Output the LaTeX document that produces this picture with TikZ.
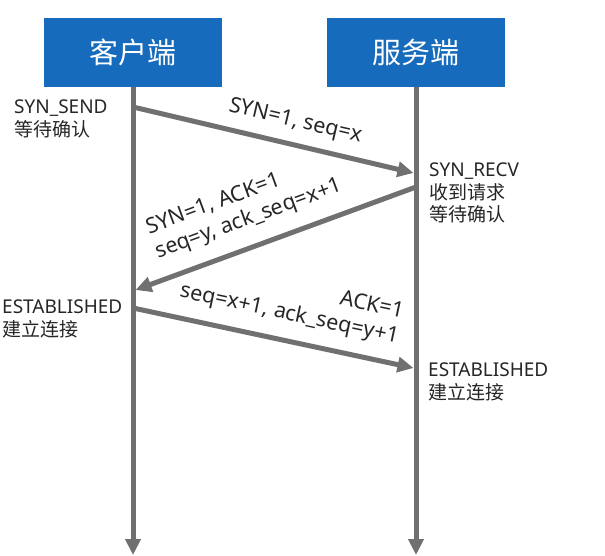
\documentclass[tikz,border=0pt]{standalone}
\usepackage{fontspec}
\setmainfont{Noto Sans}
\newfontfamily\cjk{Noto Sans CJK SC}
\usetikzlibrary{arrows.meta}
\definecolor{hostblue}{RGB}{22,107,188}
\definecolor{wiregray}{RGB}{112,112,112}

\begin{document}
\begin{tikzpicture}[x=1pt,y=-1pt,
  host/.style={fill=hostblue,text=white,minimum width=178pt,minimum height=69pt,font=\cjk\fontsize{29}{34}\selectfont},
  wire/.style={draw=wiregray,line width=5pt,-{Triangle[width=15pt,length=16pt]}},
  state/.style={anchor=north west,align=left,inner sep=0pt,text=black!85,font=\fontsize{19}{22.5}\selectfont},
  lbl/.style={sloped,inner xsep=0pt,text=black!85,font=\fontsize{21.5}{26}\selectfont}]
\useasboundingbox (0,0) rectangle (605,556);
\node [host] (cli) at (133,52.5) {客户端};
\node [host] (srv) at (416,52.5) {服务端};
\coordinate (cb) at (133,555);
\coordinate (sb) at (416,555);
\draw [wire] (cli.south) -- (cb);
\draw [wire] (srv.south) -- (sb);
% first: client -> server
\coordinate (c1) at (133,107);
\coordinate (s1) at (413.5,173);
\draw [wire] (c1) -- node [lbl,above,inner ysep=10pt,pos=0.56] {SYN=1, seq=x} (s1);
% second: server -> client
\coordinate (s2) at (416,187);
\coordinate (c2) at (135.5,290);
\draw [wire] (s2) -- node [lbl,anchor=south west,align=left,inner ysep=14pt,pos=0.9] {SYN=1, ACK=1\\seq=y, ack\_seq=x+1} (c2);
% third: client -> server
\coordinate (c3) at (133,308);
\coordinate (s3) at (413.5,368);
\draw [wire] (c3) -- node [lbl,anchor=south east,align=right,inner ysep=13pt,pos=0.935] {ACK=1\\seq=x+1, ack\_seq=y+1} (s3);
% states
\node [state] (ss) at (14,100) {SYN\_SEND\\{\cjk 等待确认}};
\node [state] (sr) at (429,163) {SYN\_RECV\\{\cjk 收到请求}\\{\cjk 等待确认}};
\node [state] (ce) at (2,300) {ESTABLISHED\\{\cjk 建立连接}};
\node [state] (se) at (428,363) {ESTABLISHED\\{\cjk 建立连接}};
\end{tikzpicture}
\end{document}
